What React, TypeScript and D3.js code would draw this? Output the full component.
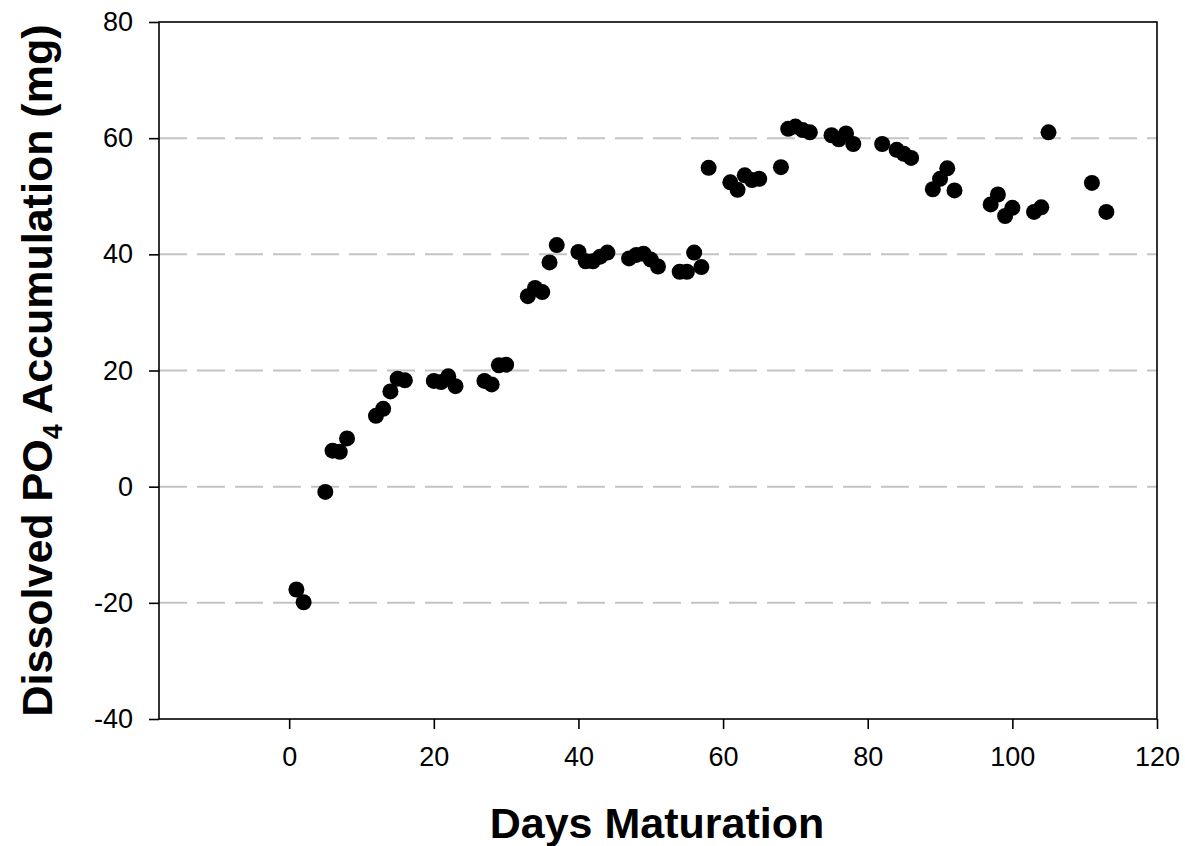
import * as d3 from 'd3';
import {useEffect, useRef} from 'react';

// days of maturation and dissolved PO4 accumulation (mg)
const days = [
	1, 2, 5, 6, 7, 8, 12, 13, 14, 15, 16, 20, 21, 22, 23, 27, 28, 29, 30, 33, 34, 35, 36, 37, 40, 41, 42, 43, 44, 47,
	48, 49, 50, 51, 54, 55, 56, 57, 58, 61, 62, 63, 64, 65, 68, 69, 70, 71, 72, 75, 76, 77, 78, 82, 84, 85, 86, 89,
	90, 91, 92, 97, 98, 99, 100, 103, 104, 105, 111, 113,
];
const po4 = [
	-17.7, -19.9, -0.9, 6.2, 6.0, 8.3, 12.2, 13.4, 16.4, 18.6, 18.3, 18.2, 18.0, 19.0, 17.3, 18.2, 17.6, 20.9, 21.0,
	32.8, 34.2, 33.5, 38.6, 41.6, 40.4, 38.8, 38.8, 39.6, 40.3, 39.3, 39.9, 40.1, 39.1, 37.9, 37.0, 37.0, 40.3, 37.8,
	54.9, 52.4, 51.1, 53.6, 52.8, 53.0, 55.0, 61.6, 62.0, 61.4, 61.0, 60.5, 59.8, 60.8, 59.0, 59.0, 58.0, 57.3, 56.6,
	51.2, 53.0, 54.8, 51.0, 48.6, 50.3, 46.6, 48.0, 47.3, 48.1, 61.0, 52.3, 47.3,
];
const xTicks = [0, 20, 40, 60, 80, 100, 120];
const yTicks = [-40, -20, 0, 20, 40, 60, 80];
const gridValues = [-20, 0, 20, 40, 60];

export default function App() {
	const svgRef = useRef(null);

	const width = 1185;
	const height = 846;
	const margin = {top: 22, right: 28, bottom: 127, left: 159};

	useEffect(() => {
		const svg = d3.select(svgRef.current);
		svg.selectAll('*').remove();

		const x = d3
			.scaleLinear()
			.domain([-18, 120])
			.range([margin.left, width - margin.right]);
		const y = d3
			.scaleLinear()
			.domain([-40, 80])
			.range([height - margin.bottom, margin.top]);

		const font = 'Arial, "Liberation Sans", sans-serif';

		// dashed grid
		svg
			.append('g')
			.selectAll('line')
			.data(gridValues)
			.join('line')
			.attr('x1', x(-18))
			.attr('x2', x(120))
			.attr('y1', (d) => y(d))
			.attr('y2', (d) => y(d))
			.attr('stroke', '#c4c4c4')
			.attr('stroke-width', 2)
			.attr('stroke-dasharray', '28,10');

		// points
		const data = days.map((d, i) => ({day: d, v: po4[i]}));
		svg
			.append('g')
			.selectAll('circle')
			.data(data)
			.join('circle')
			.attr('cx', (d) => x(d.day))
			.attr('cy', (d) => y(d.v))
			.attr('r', 8)
			.attr('fill', '#000');

		// frame
		svg
			.append('rect')
			.attr('x', x(-18))
			.attr('y', y(80))
			.attr('width', x(120) - x(-18))
			.attr('height', y(-40) - y(80))
			.attr('fill', 'none')
			.attr('stroke', '#000')
			.attr('stroke-width', 1.6);

		const fmt = (d) => String(d);
		const xAxis = svg
			.append('g')
			.attr('transform', `translate(0,${y(-40)})`)
			.call(d3.axisBottom(x).tickValues(xTicks).tickFormat(fmt).tickSize(10).tickPadding(18));
		const yAxis = svg
			.append('g')
			.attr('transform', `translate(${x(-18)},0)`)
			.call(d3.axisLeft(y).tickValues(yTicks).tickFormat(fmt).tickSize(10).tickPadding(16));

		[xAxis, yAxis].forEach((g) => {
			g.select('.domain').remove();
			g.selectAll('line').attr('stroke', '#000').attr('stroke-width', 1.6);
			g.selectAll('text').attr('fill', '#000').style('font-family', font).style('font-size', '27px');
		});

		// axis titles
		svg
			.append('text')
			.attr('x', 657)
			.attr('y', 838)
			.attr('text-anchor', 'middle')
			.style('font-family', font)
			.style('font-size', '43px')
			.style('font-weight', 'bold')
			.text('Days Maturation');

		const yTitle = svg
			.append('text')
			.attr('transform', `translate(52,${(y(80) + y(-40)) / 2}) rotate(-90)`)
			.attr('text-anchor', 'middle')
			.style('font-family', font)
			.style('font-size', '43px')
			.style('font-weight', 'bold');
		yTitle.append('tspan').text('Dissolved PO');
		yTitle.append('tspan').attr('dy', 10).style('font-size', '27px').text('4');
		yTitle.append('tspan').attr('dy', -10).text(' Accumulation (mg)');
	}, []);

	return <svg ref={svgRef} width={width} height={height} style={{position: 'absolute', left: 0, top: 0, background: '#fff'}} />;
}
